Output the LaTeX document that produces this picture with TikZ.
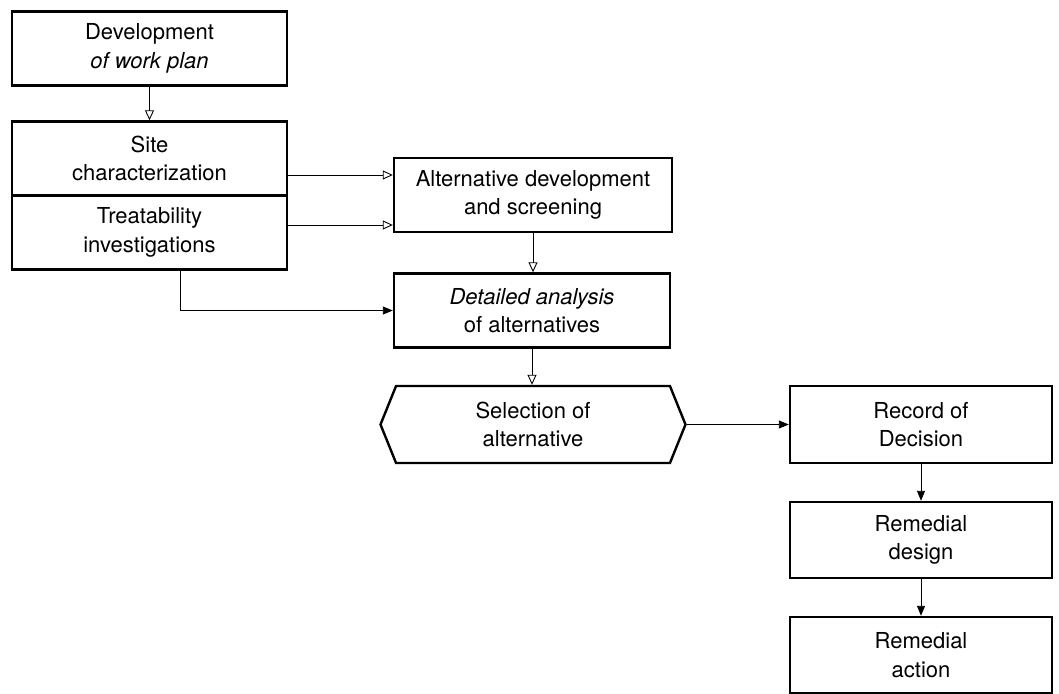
\documentclass[tikz,border=0pt]{standalone}
\usepackage{fontspec}
\setmainfont{TeX Gyre Heros}
\usetikzlibrary{arrows.meta,shapes.symbols}
\begin{document}
\begin{tikzpicture}[x=1pt,y=-1pt,
  box/.style={draw, line width=2.4pt, minimum width=275pt, minimum height=74pt,
    align=center, font=\fontsize{22}{28.5}\selectfont, inner sep=0pt},
  hexbox/.style={box, shape=signal, signal to=east and west, signal pointer angle=136,
    minimum width=305pt, minimum height=77pt},
  conn/.style={line width=0.9pt},
  openarr/.style={conn, -{Triangle[open, length=10pt, width=9pt, line width=0.9pt]}},
  fillarr/.style={conn, -{Triangle[length=10pt, width=8pt]}}
]
\useasboundingbox (0,0) rectangle (1059,693);
\node[box] (plan) at (149.5,48.5) {Development\\ \textit{of work plan}};
\node[box] (site) at (149.5,158.5) {Site\\characterization};
\node[box] (treat) at (149.5,232.5) {Treatability\\investigations};
\node[box, minimum width=278pt] (alt) at (533,195) {Alternative development\\and screening};
\node[box, minimum width=276pt] (det) at (532,310.5) {\textit{Detailed analysis}\\of alternatives};
\node[hexbox] (sel) at (533,424.5) {Selection of\\alternative};
\node[box, minimum width=262pt, minimum height=77pt] (rod) at (921,424.5) {Record of\\Decision};
\node[box, minimum width=262pt, minimum height=76pt] (des) at (921,540) {Remedial\\design};
\node[box, minimum width=262pt, minimum height=76pt] (act) at (921,655) {Remedial\\action};
\draw[openarr] (plan.south) -- (site.north);
\draw[openarr] (site.east |- 0,175) -- (alt.west |- 0,175);
\draw[openarr] (treat.east |- 0,225) -- (alt.west |- 0,225);
\draw[fillarr] (treat.south -| 180,0) |- (det.west);
\draw[openarr] (alt.south) -- (alt.south |- det.north);
\draw[openarr] (det.south) -- (det.south |- sel.north);
\draw[fillarr] (sel.east) -- (rod.west);
\draw[fillarr] (rod.south) -- (des.north);
\draw[fillarr] (des.south) -- (act.north);
\end{tikzpicture}
\end{document}
